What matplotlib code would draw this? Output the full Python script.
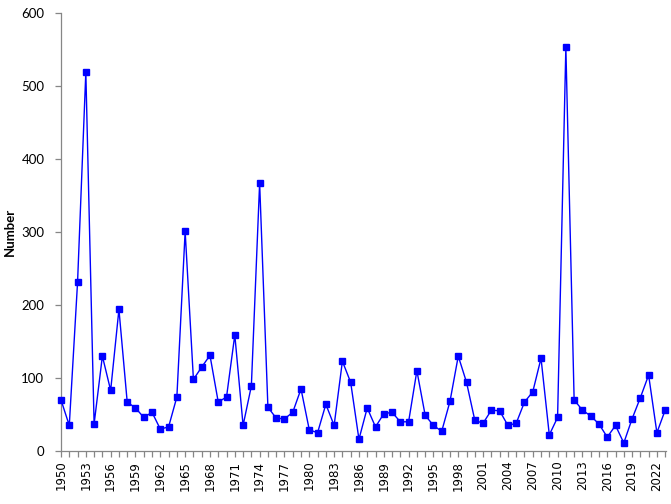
import matplotlib
matplotlib.use("Agg")
import matplotlib.pyplot as plt

years = list(range(1950, 2024))
values = [70, 35, 231, 519, 37, 130, 83, 194, 67, 59,
          46, 53, 30, 33, 74, 301, 98, 115, 131, 67,
          74, 159, 35, 89, 367, 60, 45, 44, 53, 85,
          29, 25, 64, 35, 123, 94, 16, 59, 33, 51,
          53, 40, 40, 110, 49, 35, 27, 68, 130, 94,
          42, 38, 56, 55, 35, 38, 67, 81, 127, 22,
          46, 553, 70, 56, 48, 37, 19, 35, 11, 44,
          73, 104, 25, 56]
y_ticks = [0, 100, 200, 300, 400, 500, 600]
label_years = years[::3]

fig = plt.figure(figsize=(6.71, 5.04), dpi=100)
ax = fig.add_axes([61/671, 1-451/504, (666-61)/671, (451-13)/504])

ax.plot(years, values, color="#0000FF", linewidth=1.0, marker="s",
        markersize=4.8, markerfacecolor="#0000FF", markeredgecolor="#0000FF",
        clip_on=False, zorder=3)

ax.set_xlim(1950, 2023.1)
ax.set_ylim(0, 600)
ax.set_yticks(y_ticks)
ax.set_yticklabels([str(v) for v in y_ticks], fontfamily="Lato", fontsize=9.5)
ax.set_xticks(years)
ax.set_xticklabels([str(y) if y in label_years else "" for y in years],
                   rotation=90, fontfamily="DejaVu Sans", fontsize=8.5)

for s in ["top", "right"]:
    ax.spines[s].set_visible(False)
for s in ["left", "bottom"]:
    ax.spines[s].set_color("#868686")
    ax.spines[s].set_linewidth(0.9)
ax.tick_params(axis="both", direction="out", length=4, width=0.9, color="#868686",
               labelcolor="black")
ax.tick_params(axis="y", pad=8)
ax.tick_params(axis="x", pad=3)
ax.set_ylabel("Number", fontfamily="Lato", fontweight="bold", fontsize=9.5, labelpad=4)
ax.patch.set_visible(False)

fig.savefig("out.png", dpi=100)
